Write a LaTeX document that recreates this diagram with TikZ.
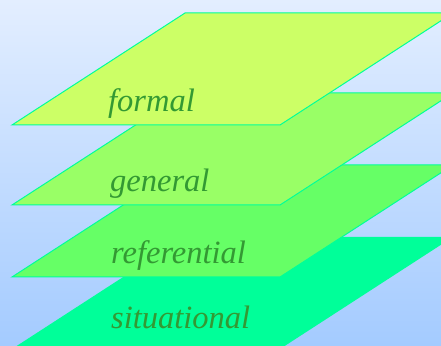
\documentclass[tikz,border=0pt]{standalone}
\usepackage{fontspec}
\setmainfont{Liberation Serif}
\definecolor{bgtop}{HTML}{E3EEFF}
\definecolor{bgbot}{HTML}{A4CBFF}
\definecolor{edgec}{HTML}{00FF99}
\definecolor{cformal}{HTML}{CCFF66}
\definecolor{cgeneral}{HTML}{99FF66}
\definecolor{creferential}{HTML}{66FF66}
\definecolor{csituational}{HTML}{00FF99}
\definecolor{textc}{HTML}{339933}
\tikzset{
  plane/.style={draw=edgec, line width=1pt, line join=miter},
  lbl/.style={anchor=base west, inner sep=0pt, text=textc, font=\fontsize{32.5}{36}\selectfont\itshape}
}
\begin{document}
\begin{tikzpicture}[x=1pt,y=1pt]
\useasboundingbox (0,0) rectangle (441,345);
\shade[top color=bgtop, bottom color=bgbot] (0,0) rectangle (441,345);
\clip (0,0) rectangle (441,345);
% situational
\fill[csituational] (12,-4) -- (280,-4) -- (453,108) -- (185,108) -- cycle;
\node[lbl] (situational) at (111,17) {situational};
% referential
\filldraw[plane, fill=creferential] (12,68) -- (280,68) -- (453,180) -- (185,180) -- cycle;
\node[lbl] (referential) at (111,81) {referential};
% general
\filldraw[plane, fill=cgeneral] (12,140) -- (280,140) -- (453,252) -- (185,252) -- cycle;
\node[lbl] (general) at (110,153) {general};
% formal
\filldraw[plane, fill=cformal] (12,220) -- (280,220) -- (453,332) -- (185,332) -- cycle;
\node[lbl] (formal) at (108,233) {formal};
\end{tikzpicture}
\end{document}
